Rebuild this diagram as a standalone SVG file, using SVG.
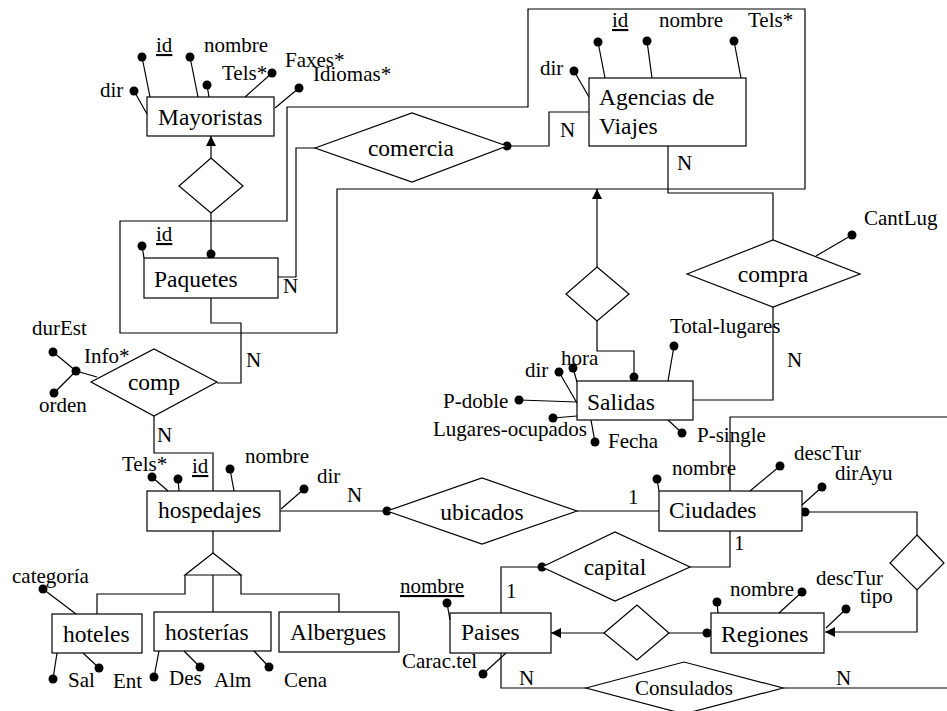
<svg xmlns="http://www.w3.org/2000/svg" width="947" height="711" viewBox="0 0 947 711" font-family="'Liberation Serif', 'Times New Roman', 'DejaVu Serif', serif">
<defs>
<marker id="arr" viewBox="0 0 10 10" refX="10" refY="5" markerWidth="10" markerHeight="10" orient="auto" markerUnits="userSpaceOnUse"><path d="M0,0 L10,5 L0,10 z" fill="#000"/></marker>
</defs>
<style>
.b{fill:#fff;stroke:#000;stroke-width:1.2}
.l{fill:none;stroke:#000;stroke-width:1.2}
.d{fill:#000}
text{font-family:'Liberation Serif','Times New Roman',serif;fill:#000}
.n{font-size:23.5px}
.a{font-size:21px}
.c{text-anchor:middle}
.u{text-decoration:underline}
</style>
<rect width="947" height="711" fill="#fff"/>

<g id="aggregation">
<polygon class="l" points="528,9 805,9 805,189 337,189 337,333 120,333 120,221 287,221 287,107 528,107"/>
</g>

<g id="connectors">
<line class="l" x1="211" y1="158" x2="211" y2="136" marker-end="url(#arr)"/>
<line class="l" x1="211" y1="213" x2="211" y2="254"/>
<circle class="d" cx="211" cy="254" r="4.5"/>
<polyline class="l" points="278,277 296,277 296,148 315,148"/>
<polyline class="l" points="507,146 549,146 549,112 589,112"/>
<circle class="d" cx="507" cy="146" r="4.5"/>
<polyline class="l" points="668,146 668,193 773,193 773,240"/>
<polyline class="l" points="773,307 773,400 693,400"/>
<line class="l" x1="597" y1="267" x2="597" y2="189" marker-end="url(#arr)"/>
<polyline class="l" points="597,321 597,351 634,351 634,381"/>
<circle class="d" cx="634" cy="377" r="4.5"/>
<polyline class="l" points="211,298 211,323 241,323 241,383 217,383"/>
<polyline class="l" points="154,416 154,453 213,453 213,491"/>
<line class="l" x1="280" y1="511" x2="387" y2="511"/>
<circle class="d" cx="387" cy="511" r="4.5"/>
<line class="l" x1="577" y1="511" x2="659" y2="511"/>
<polyline class="l" points="730,531 730,567 690,567"/>
<polyline class="l" points="542,567 501,567 501,613"/>
<circle class="d" cx="542" cy="567" r="4.5"/>
<polyline class="l" points="730,491 730,417 947,417"/>
<polyline class="l" points="805,512 917,512 917,535"/>
<circle class="d" cx="805" cy="512" r="4.5"/>
<polyline class="l" points="917,590 917,632 825,632" marker-end="url(#arr)"/>
<line class="l" x1="604" y1="633" x2="551" y2="633" marker-end="url(#arr)"/>
<line class="l" x1="669" y1="633" x2="711" y2="633"/>
<circle class="d" cx="707" cy="633" r="4.5"/>
<polyline class="l" points="501,653 501,688 586,688"/>
<line class="l" x1="783" y1="688" x2="947" y2="688"/>
<line class="l" x1="213" y1="531" x2="213" y2="553"/>
<polyline class="l" points="185,575 185,594 97,594 97,614"/>
<line class="l" x1="213" y1="575" x2="213" y2="612"/>
<polyline class="l" points="241,575 241,594 339,594 339,612"/>
<text class="a" x="283" y="293">N</text>
<text class="a" x="560" y="137">N</text>
<text class="a" x="677" y="170">N</text>
<text class="a" x="787" y="367">N</text>
<text class="a" x="246" y="367">N</text>
<text class="a" x="157" y="442">N</text>
<text class="a" x="347" y="502">N</text>
<text class="a" x="628" y="504">1</text>
<text class="a" x="734" y="550">1</text>
<text class="a" x="506" y="598">1</text>
<text class="a" x="519" y="685">N</text>
<text class="a" x="836" y="685">N</text>
</g>

<g id="mayoristas">
<rect class="b" x="147" y="97" width="127" height="39"/>
<text class="n" x="158" y="125">Mayoristas</text>
<line class="l" x1="134" y1="91" x2="147" y2="114"/><circle class="d" cx="134" cy="91" r="4.5"/>
<text class="a" x="100" y="97">dir</text>
<line class="l" x1="142" y1="57" x2="150" y2="97"/><circle class="d" cx="142" cy="57" r="4.5"/>
<text class="a u" x="156" y="52">id</text>
<line class="l" x1="190" y1="57" x2="198" y2="97"/><circle class="d" cx="190" cy="57" r="4.5"/>
<text class="a" x="204" y="52">nombre</text>
<line class="l" x1="207" y1="85" x2="209" y2="97"/><circle class="d" cx="207" cy="85" r="4.5"/>
<text class="a" x="222" y="80">Tels*</text>
<line class="l" x1="272" y1="73" x2="245" y2="97"/><circle class="d" cx="272" cy="73" r="4.5"/>
<text class="a" x="285" y="67">Faxes*</text>
<line class="l" x1="299" y1="88" x2="275" y2="108"/><circle class="d" cx="299" cy="88" r="4.5"/>
<text class="a" x="313" y="81">Idiomas*</text>
</g>

<g id="isa-mayoristas">
<polygon class="b" points="211,158 243,186 211,213 179,186"/>
</g>

<g id="paquetes">
<rect class="b" x="144" y="258" width="134" height="40"/>
<text class="n" x="154" y="287">Paquetes</text>
<line class="l" x1="142" y1="246" x2="144" y2="258"/><circle class="d" cx="142" cy="246" r="4.5"/>
<text class="a u" x="156" y="241">id</text>
</g>

<g id="comercia">
<polygon class="b" points="315,148 412,113 507,146 412,182"/>
<text class="n c" x="411" y="156">comercia</text>
</g>

<g id="agencias">
<rect class="b" x="589" y="78" width="157" height="68"/>
<text class="n" x="599" y="105">Agencias de</text>
<text class="n" x="599" y="134">Viajes</text>
<line class="l" x1="574" y1="71" x2="589" y2="97"/><circle class="d" cx="574" cy="71" r="4.5"/>
<text class="a" x="540" y="75">dir</text>
<line class="l" x1="598" y1="42" x2="605" y2="78"/><circle class="d" cx="598" cy="42" r="4.5"/>
<text class="a u" x="612" y="27">id</text>
<line class="l" x1="647" y1="41" x2="652" y2="78"/><circle class="d" cx="647" cy="41" r="4.5"/>
<text class="a" x="659" y="27">nombre</text>
<line class="l" x1="734" y1="41" x2="741" y2="78"/><circle class="d" cx="734" cy="41" r="4.5"/>
<text class="a" x="748" y="27">Tels*</text>
</g>

<g id="compra">
<polygon class="b" points="687,274 773,240 860,274 773,307"/>
<text class="n c" x="773" y="282">compra</text>
<line class="l" x1="816" y1="256" x2="852" y2="235"/><circle class="d" cx="852" cy="235" r="4.5"/>
<text class="a" x="864" y="225">CantLug</text>
</g>

<g id="isa-salidas">
<polygon class="b" points="597,267 629,294 597,321 566,294"/>
</g>

<g id="salidas">
<line class="l" x1="559" y1="372" x2="577" y2="403"/><circle class="d" cx="559" cy="372" r="4.5"/>
<line class="l" x1="573" y1="368" x2="577" y2="382"/><circle class="d" cx="573" cy="368" r="4.5"/>
<line class="l" x1="519" y1="400" x2="577" y2="402"/><circle class="d" cx="519" cy="400" r="4.5"/>
<line class="l" x1="553" y1="418" x2="577" y2="416"/><circle class="d" cx="553" cy="418" r="4.5"/>
<line class="l" x1="591" y1="420" x2="595" y2="442"/><circle class="d" cx="595" cy="442" r="4.5"/>
<line class="l" x1="674" y1="346" x2="668" y2="381"/><circle class="d" cx="674" cy="346" r="4.5"/>
<line class="l" x1="668" y1="420" x2="682" y2="433"/><circle class="d" cx="682" cy="433" r="4.5"/>
<rect class="b" x="577" y="381" width="116" height="39"/>
<text class="n" x="587" y="410">Salidas</text>
<text class="a" x="525" y="377">dir</text>
<text class="a" x="561" y="365">hora</text>
<text class="a" x="443" y="408">P-doble</text>
<text class="a" x="433" y="436">Lugares-ocupados</text>
<text class="a" x="608" y="448">Fecha</text>
<text class="a" x="670" y="333">Total-lugares</text>
<text class="a" x="697" y="442">P-single</text>
</g>

<g id="comp">
<polygon class="b" points="91,382 154,349 217,382 154,416"/>
<text class="n c" x="154" y="390">comp</text>
<line class="l" x1="97" y1="377" x2="76" y2="371"/>
<line class="l" x1="76" y1="371" x2="53" y2="352"/>
<line class="l" x1="76" y1="371" x2="54" y2="393"/>
<circle class="d" cx="76" cy="371" r="4.5"/>
<circle class="d" cx="53" cy="352" r="4.5"/>
<circle class="d" cx="54" cy="393" r="4.5"/>
<text class="a" x="84" y="363">Info*</text>
<text class="a" x="32" y="335">durEst</text>
<text class="a" x="39" y="412">orden</text>
</g>

<g id="hospedajes">
<rect class="b" x="147" y="491" width="133" height="40"/>
<text class="n" x="158" y="518">hospedajes</text>
<line class="l" x1="152" y1="477" x2="168" y2="491"/><circle class="d" cx="152" cy="477" r="4.5"/>
<text class="a" x="122" y="471">Tels*</text>
<line class="l" x1="178" y1="479" x2="179" y2="491"/><circle class="d" cx="178" cy="479" r="4.5"/>
<text class="a u" x="192" y="473">id</text>
<line class="l" x1="230" y1="469" x2="234" y2="491"/><circle class="d" cx="230" cy="469" r="4.5"/>
<text class="a" x="245" y="463">nombre</text>
<line class="l" x1="281" y1="509" x2="304" y2="489"/><circle class="d" cx="304" cy="489" r="4.5"/>
<text class="a" x="317" y="483">dir</text>
</g>

<g id="isa-hospedajes">
<polygon class="b" points="213,553 241,575 185,575"/>
</g>

<g id="hoteles">
<rect class="b" x="52" y="614" width="90" height="39"/>
<text class="n" x="63" y="642">hoteles</text>
<line class="l" x1="43" y1="589" x2="76" y2="614"/><circle class="d" cx="43" cy="589" r="4.5"/>
<text class="a" x="12" y="583">categoría</text>
<line class="l" x1="57" y1="653" x2="53" y2="679"/><circle class="d" cx="53" cy="679" r="4.5"/>
<text class="a" x="68" y="687">Sal</text>
<line class="l" x1="83" y1="653" x2="99" y2="668"/><circle class="d" cx="99" cy="668" r="4.5"/>
<text class="a" x="113" y="688">Ent</text>
</g>

<g id="hosterias">
<rect class="b" x="154" y="612" width="117" height="39"/>
<text class="n" x="165" y="640">hosterías</text>
<line class="l" x1="159" y1="651" x2="154" y2="677"/><circle class="d" cx="154" cy="677" r="4.5"/>
<text class="a" x="169" y="685">Des</text>
<line class="l" x1="184" y1="651" x2="200" y2="667"/><circle class="d" cx="200" cy="667" r="4.5"/>
<text class="a" x="214" y="687">Alm</text>
<line class="l" x1="254" y1="651" x2="269" y2="667"/><circle class="d" cx="269" cy="667" r="4.5"/>
<text class="a" x="284" y="687">Cena</text>
</g>

<g id="albergues">
<rect class="b" x="279" y="612" width="120" height="40"/>
<text class="n" x="290" y="640">Albergues</text>
</g>

<g id="ubicados">
<polygon class="b" points="387,511 482,478 577,511 482,544"/>
<text class="n c" x="482" y="520">ubicados</text>
</g>

<g id="ciudades">
<rect class="b" x="659" y="491" width="143" height="40"/>
<text class="n" x="669" y="518">Ciudades</text>
<line class="l" x1="657" y1="479" x2="659" y2="491"/><circle class="d" cx="657" cy="479" r="4.5"/>
<text class="a" x="672" y="475">nombre</text>
<line class="l" x1="750" y1="491" x2="780" y2="466"/><circle class="d" cx="780" cy="466" r="4.5"/>
<text class="a" x="794" y="460">descTur</text>
<line class="l" x1="802" y1="505" x2="822" y2="487"/><circle class="d" cx="822" cy="487" r="4.5"/>
<text class="a" x="835" y="480">dirAyu</text>
</g>

<g id="isa-regiones-ciudades">
<polygon class="b" points="917,535 944,563 917,590 890,563"/>
</g>

<g id="capital">
<polygon class="b" points="542,567 615,532 690,567 615,601"/>
<text class="n c" x="615" y="575">capital</text>
</g>

<g id="paises">
<rect class="b" x="450" y="613" width="101" height="40"/>
<text class="n" x="461" y="640">Paises</text>
<line class="l" x1="447" y1="603" x2="450" y2="620"/><circle class="d" cx="447" cy="603" r="4.5"/>
<text class="a u" x="400" y="593">nombre</text>
<line class="l" x1="506" y1="653" x2="483" y2="674"/><circle class="d" cx="483" cy="674" r="4.5"/>
<text class="a" x="402" y="668">Carac.tel</text>
</g>

<g id="isa-paises-regiones">
<polygon class="b" points="604,633 637,605 669,633 637,660"/>
</g>

<g id="regiones">
<rect class="b" x="711" y="613" width="113" height="40"/>
<text class="n" x="721" y="642">Regiones</text>
<line class="l" x1="717" y1="602" x2="718" y2="613"/><circle class="d" cx="717" cy="602" r="4.5"/>
<line class="l" x1="779" y1="613" x2="802" y2="592"/><circle class="d" cx="802" cy="592" r="4.5"/>
<text class="a" x="730" y="596">nombre</text>
<text class="a" x="816" y="585">descTur</text>
<line class="l" x1="826" y1="628" x2="846" y2="609"/><circle class="d" cx="846" cy="609" r="4.5"/>
<text class="a" x="860" y="603">tipo</text>
</g>

<g id="consulados">
<polygon class="b" points="586,688 684,662 783,688 684,714"/>
<text class="a c" x="684" y="695">Consulados</text>
</g>
</svg>
